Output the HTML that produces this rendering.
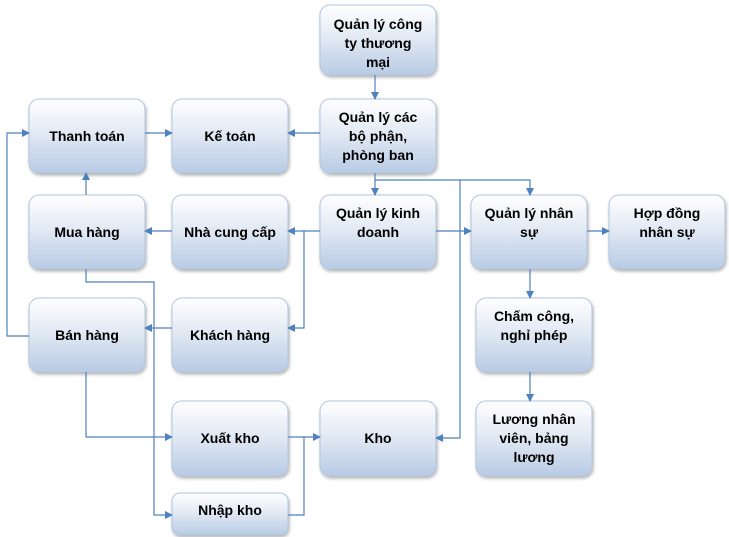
<!DOCTYPE html>
<html><head><meta charset="utf-8"><style>
html,body{margin:0;padding:0;background:#fff;}
svg{display:block;}
text{font-family:"Liberation Sans","DejaVu Sans",sans-serif;font-weight:bold;font-size:14px;fill:#000;text-anchor:middle;}
</style></head><body>
<svg width="729" height="537" viewBox="0 0 729 537" xmlns="http://www.w3.org/2000/svg">
<defs>
<linearGradient id="g" x1="0" y1="0" x2="0" y2="1">
<stop offset="0" stop-color="#ffffff"/><stop offset="0.45" stop-color="#e3eaf4"/><stop offset="1" stop-color="#b8cbe4"/>
</linearGradient>
<filter id="s" x="-10%" y="-10%" width="130%" height="130%"><feDropShadow dx="1" dy="2" stdDeviation="1.5" flood-color="#000" flood-opacity="0.3"/></filter>
<marker id="a" markerWidth="8" markerHeight="8" refX="7" refY="4" orient="auto" markerUnits="userSpaceOnUse"><path d="M0,0 L8,4 L0,8 z" fill="#4f81bd"/></marker>
</defs>
<g fill="url(#g)" stroke="#b2c6e0" stroke-width="1" filter="url(#s)">
<rect x="320" y="5" width="116" height="70" rx="10"/>
<rect x="29" y="99" width="116" height="74" rx="10"/>
<rect x="172" y="99" width="116" height="74" rx="10"/>
<rect x="320" y="99" width="116" height="74" rx="10"/>
<rect x="29" y="195" width="116" height="74" rx="10"/>
<rect x="172" y="195" width="116" height="74" rx="10"/>
<rect x="320" y="195" width="116" height="74" rx="10"/>
<rect x="471" y="195" width="116" height="74" rx="10"/>
<rect x="609" y="195" width="116" height="74" rx="10"/>
<rect x="29" y="298" width="116" height="74" rx="10"/>
<rect x="172" y="298" width="116" height="74" rx="10"/>
<rect x="476" y="298" width="116" height="74" rx="10"/>
<rect x="172" y="401" width="116" height="75" rx="10"/>
<rect x="320" y="401" width="116" height="75" rx="10"/>
<rect x="476" y="401" width="116" height="75" rx="10"/>
<rect x="172" y="493" width="116" height="42" rx="8"/>
</g>
<g fill="none" stroke="#4f81bd" stroke-width="1.2">
<path d="M375 75 V99" marker-end="url(#a)"/>
<path d="M145 133 H172" marker-end="url(#a)"/>
<path d="M320 133 H288" marker-end="url(#a)"/>
<path d="M375 173 V195" marker-end="url(#a)"/>
<path d="M375 180 H530 V195" marker-end="url(#a)"/>
<path d="M460 180 V438 H436" marker-end="url(#a)"/>
<path d="M436 231 H471" marker-end="url(#a)"/>
<path d="M587 231 H609" marker-end="url(#a)"/>
<path d="M320 231 H288" marker-end="url(#a)"/>
<path d="M304 231 V328 H288" marker-end="url(#a)"/>
<path d="M172 231 H145" marker-end="url(#a)"/>
<path d="M172 328 H145" marker-end="url(#a)"/>
<path d="M86 195 V173" marker-end="url(#a)"/>
<path d="M29 336 H7 V133 H29" marker-end="url(#a)"/>
<path d="M86 269 V282 H154 V515 H172" marker-end="url(#a)"/>
<path d="M86 372 V437 H172" marker-end="url(#a)"/>
<path d="M288 437 H320" marker-end="url(#a)"/>
<path d="M288 515 H304 V437"/>
<path d="M530 269 V298" marker-end="url(#a)"/>
<path d="M530 372 V401" marker-end="url(#a)"/>
</g>
<text x="378" y="29">Quản lý công</text>
<text x="378" y="48">ty thương</text>
<text x="378" y="67">mại</text>
<text x="87" y="141">Thanh toán</text>
<text x="230" y="141">Kế toán</text>
<text x="378" y="122">Quản  lý các</text>
<text x="378" y="141">bộ phận,</text>
<text x="378" y="160">phòng ban</text>
<text x="87" y="237">Mua hàng</text>
<text x="230" y="237">Nhà cung cấp</text>
<text x="378" y="218">Quản lý kinh</text>
<text x="378" y="237">doanh</text>
<text x="529" y="218">Quản lý nhân</text>
<text x="529" y="237">sự</text>
<text x="667" y="218">Hợp đồng</text>
<text x="667" y="237">nhân sự</text>
<text x="87" y="340">Bán hàng</text>
<text x="230" y="340">Khách hàng</text>
<text x="534" y="321">Chấm công,</text>
<text x="534" y="340">nghỉ phép</text>
<text x="230" y="443">Xuất kho</text>
<text x="378" y="443">Kho</text>
<text x="534" y="424">Lương nhân</text>
<text x="534" y="443">viên, bảng</text>
<text x="534" y="462">lương</text>
<text x="230" y="515">Nhập kho</text>
</svg>
</body></html>
